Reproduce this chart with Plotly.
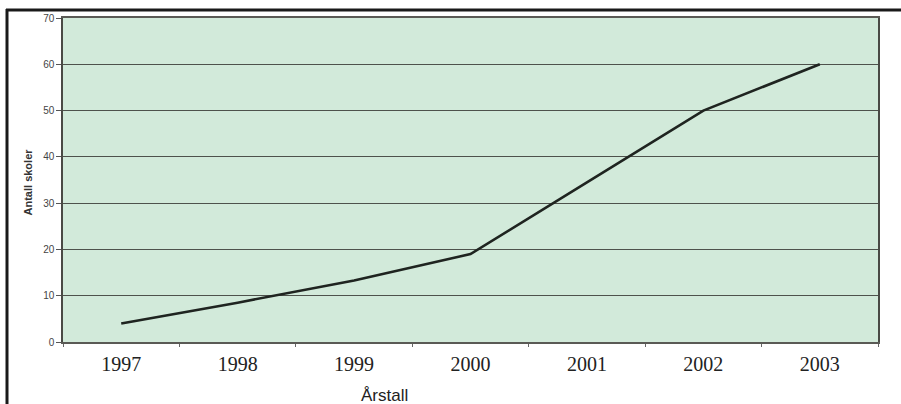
import plotly.graph_objects as go

# Antall skoler per år
years = ["1997", "1998", "1999", "2000", "2001", "2002", "2003"]
schools = [4, 8.5, 13.3, 19, 34.5, 50, 60]
y_ticks = [0, 10, 20, 30, 40, 50, 60, 70]

W, H = 901, 404
L, R, T, B = 63, 23, 15, 62
pw, ph = W - L - R, H - T - B


def px_x(x):
    return (x - L) / pw


def px_y(y):
    return 1 - (y - T) / ph


fig = go.Figure()
fig.add_trace(go.Scatter(
    x=years, y=schools, mode="lines",
    line=dict(color="#1f2420", width=2.6),
    showlegend=False, hoverinfo="skip",
))

fig.update_layout(
    width=W, height=H,
    margin=dict(l=L, r=R, t=T, b=B),
    paper_bgcolor="white",
    plot_bgcolor="#d2eada",
    xaxis=dict(
        type="category", range=[-0.5, 6.5],
        tickson="boundaries", ticks="outside", ticklen=3, tickcolor="#666",
        showgrid=False, showline=True, linecolor="#5a5a55", linewidth=1.5,
        mirror=True,
        tickfont=dict(family="Liberation Serif", size=20, color="#222"),
        ticklabelstandoff=3,
    ),
    yaxis=dict(
        range=[0, 70], tickvals=y_ticks,
        ticks="outside", ticklen=5, tickcolor="#555",
        showgrid=True, gridcolor="#4e524c", gridwidth=1,
        showline=True, linecolor="#4a4a45", linewidth=1.5, mirror=True,
        zeroline=False,
        tickfont=dict(family="Liberation Sans", size=10, color="#444"),
    ),
    annotations=[
        dict(text="Årstall", x=px_x(384), y=px_y(396), xref="paper", yref="paper",
             showarrow=False, xanchor="center", yanchor="middle",
             font=dict(family="Liberation Sans Narrow, Liberation Sans", size=17, color="#222")),
        dict(text="<b>Antall skoler</b>", x=px_x(28), y=px_y(181), xref="paper", yref="paper",
             showarrow=False, textangle=-90, xanchor="center", yanchor="middle",
             font=dict(family="Liberation Sans", size=11, color="#333")),
    ],
    shapes=[
        dict(type="line", xref="paper", yref="paper",
             x0=px_x(7), x1=px_x(7), y0=px_y(6), y1=px_y(H + 2),
             line=dict(color="#1a1a1a", width=3)),
        dict(type="line", xref="paper", yref="paper",
             x0=px_x(6), x1=px_x(W + 2), y0=px_y(7), y1=px_y(7),
             line=dict(color="#1a1a1a", width=3)),
    ],
)

fig.write_html("out.html")
